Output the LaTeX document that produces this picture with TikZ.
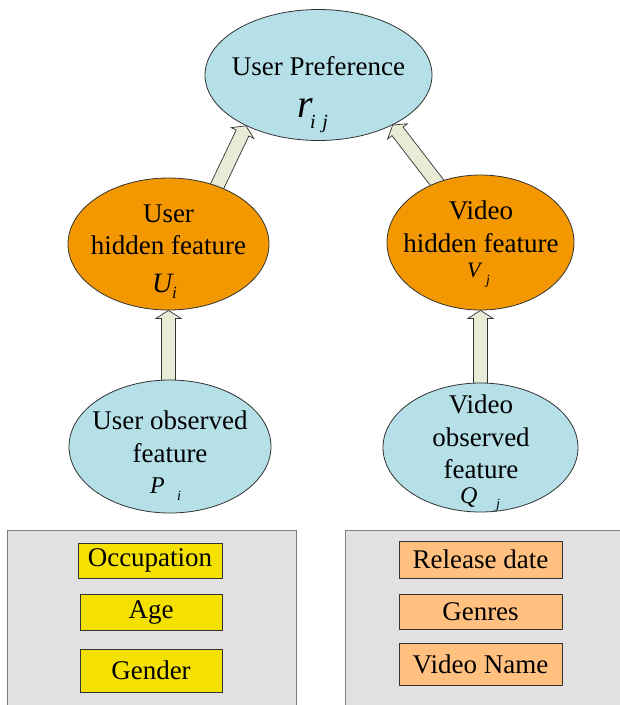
\documentclass[tikz,border=0pt]{standalone}
\usepackage{fontspec}
\setmainfont{Liberation Serif}
\usetikzlibrary{calc,shapes.geometric}
\pgfdeclarelayer{paper}
\pgfdeclarelayer{bg}
\pgfsetlayers{paper,bg,main}

\definecolor{skyfill}{HTML}{B5E0E8}
\definecolor{hidfill}{HTML}{F39800}
\definecolor{arrfill}{HTML}{E8EBD6}
\definecolor{userattr}{HTML}{F5E100}
\definecolor{videoattr}{HTML}{FFC080}
\definecolor{panelfill}{HTML}{E1E1E1}
\definecolor{panelline}{HTML}{7F7F7F}
\definecolor{inkline}{HTML}{333333}

\tikzset{
  oval/.style={ellipse, draw=inkline, line width=0.8pt, inner sep=0pt},
  observed/.style={oval, fill=skyfill},
  hidden/.style={oval, fill=hidfill},
  txt/.style={inner sep=0pt, anchor=base, font=\fontsize{27}{32}\selectfont},
  sym/.style={inner sep=0pt, anchor=base west},
  panel/.style={draw=panelline, fill=panelfill, line width=1pt},
  attrbox/.style={draw=inkline, line width=0.8pt, inner sep=0pt,
    minimum width=#1, font=\fontsize{27}{32}\selectfont},
  blockarrow/.style={draw=inkline, fill=arrfill, line width=0.7pt, line join=miter},
}

% hollow block arrow from #1 to #2; the tail is tucked behind the source shape
\newcommand\blockarr[2]{%
  \coordinate (ba-e) at (#2);
  \coordinate (ba-s) at ($(#1)!-6pt!(ba-e)$);
  \coordinate (ba-h) at ($(ba-e)!8pt!(ba-s)$);
  \begin{pgfonlayer}{bg}
  \draw[blockarrow] ($(ba-s)!7pt!90:(ba-e)$) -- ($(ba-h)!7pt!90:(ba-e)$)
    -- ($(ba-h)!12.5pt!90:(ba-e)$) -- (ba-e) -- ($(ba-h)!12.5pt!-90:(ba-e)$)
    -- ($(ba-h)!7pt!-90:(ba-e)$) -- ($(ba-s)!7pt!-90:(ba-e)$) -- cycle;
  \end{pgfonlayer}}

\begin{document}
\begin{tikzpicture}[x=1pt, y=-1pt]
\begin{pgfonlayer}{paper}
\fill[white] (0,0) rectangle (620,705);
\end{pgfonlayer}
\useasboundingbox (0,0) rectangle (620,705);

% ellipses
\node[observed, minimum width=227pt, minimum height=131pt] (pref) at (318.5,75) {};
\node[hidden, minimum width=201pt, minimum height=132pt] (hidU) at (168.5,244) {};
\node[hidden, minimum width=187pt, minimum height=135pt] (hidV) at (480.5,242.5) {};
\node[observed, minimum width=202pt, minimum height=133pt] (obsU) at (170,446.5) {};
\node[observed, minimum width=195pt, minimum height=129pt] (obsV) at (480.5,447.5) {};

% arrows
\blockarr{hidU.50.6}{pref.215.5}
\blockarr{hidV.126}{pref.326}
\blockarr{obsU.north -| hidU.south}{hidU.south}
\blockarr{obsV.north -| hidV.south}{hidV.south}

% texts of the top ellipse
\node[txt] (prefT) at (318.5,75) {User Preference};
\node[sym, font=\fontsize{40}{40}\selectfont\itshape] (prefR) at (297,117) {r};
\node[sym, font=\fontsize{20}{20}\selectfont\itshape] (prefS) at (310,128) {i\,\,j};

% user hidden feature
\node[txt] (hidU1) at (168.5,222) {User};
\node[txt] (hidU2) at (168.5,254) {hidden feature};
\node[sym, font=\fontsize{28}{28}\selectfont\itshape] (hidUS) at (152,292) {U};
\node[sym, font=\fontsize{17}{17}\selectfont\itshape] (hidUi) at (172,298) {i};

% video hidden feature
\node[txt] (hidV1) at (481,219) {Video};
\node[txt] (hidV2) at (481,252) {hidden feature};
\node[sym, font=\fontsize{22}{22}\selectfont\itshape] (hidVS) at (467,277) {V};
\node[sym, font=\fontsize{14}{14}\selectfont\itshape] (hidVj) at (486,284) {j};

% user observed feature
\node[txt] (obsU1) at (170,429) {User observed};
\node[txt] (obsU2) at (170,462) {feature};
\node[sym, font=\fontsize{24}{24}\selectfont\itshape] (obsUS) at (150,493) {P};
\node[sym, font=\fontsize{14}{14}\selectfont\itshape] (obsUi) at (177,500) {i};

% video observed feature
\node[txt] (obsV1) at (481,413) {Video};
\node[txt] (obsV2) at (481,446) {observed};
\node[txt] (obsV3) at (481,478) {feature};
\node[sym, font=\fontsize{24}{24}\selectfont\itshape] (obsVS) at (460,503) {Q};
\node[sym, font=\fontsize{14}{14}\selectfont\itshape] (obsVj) at (496,508) {j};

% attribute panels
\draw[panel] (7,530) rectangle (296,712);
\draw[panel] (345,530) rectangle (626,712);

\node[attrbox=144pt, minimum height=35pt, fill=userattr] (occ) at (150,560.5) {Occupation};
\node[attrbox=142pt, minimum height=36pt, fill=userattr] (age) at (151,612) {Age};
\node[attrbox=142pt, minimum height=43pt, fill=userattr] (gen) at (151,670.5) {Gender};

\node[attrbox=163pt, minimum height=37pt, fill=videoattr] (rel) at (480.5,559.5) {Release date};
\node[attrbox=163pt, minimum height=35pt, fill=videoattr] (gnr) at (480.5,611.5) {Genres};
\node[attrbox=163pt, minimum height=42pt, fill=videoattr] (vnm) at (480.5,664) {Video Name};
\end{tikzpicture}
\end{document}
